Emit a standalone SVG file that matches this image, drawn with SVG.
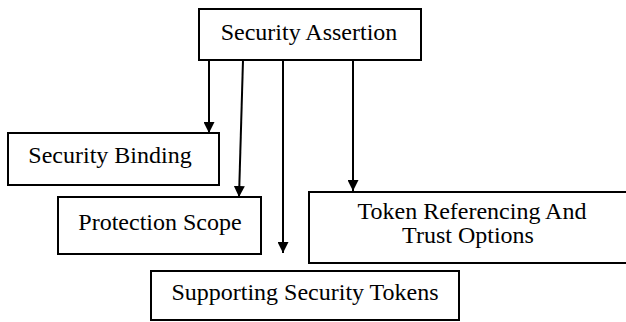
<svg xmlns="http://www.w3.org/2000/svg" width="626" height="322" viewBox="0 0 626 322">
  <style>
    .box { fill: #ffffff; stroke: #000000; stroke-width: 2; }
    .lbl { font-family: "Liberation Serif", "Times New Roman", serif; font-size: 24px; fill: #000000; text-anchor: middle; }
    .wire { fill: none; stroke: #000000; stroke-width: 2; }
  </style>
  <defs>
    <marker id="arrow" viewBox="0 0 10 10" refX="10" refY="5" markerWidth="5.5" markerHeight="5.5" orient="auto" markerUnits="strokeWidth">
      <path d="M0,0 L10,5 L0,10 z" fill="#000000"/>
    </marker>
  </defs>

  <rect width="626" height="322" fill="#ffffff"/>

  <g id="security-assertion">
    <rect class="box" x="199" y="9" width="222" height="51"/>
    <text class="lbl" x="309" y="40">Security Assertion</text>
  </g>

  <g id="security-binding">
    <rect class="box" x="8" y="133" width="211" height="52"/>
    <text class="lbl" x="110" y="163">Security Binding</text>
  </g>

  <g id="protection-scope">
    <rect class="box" x="58" y="197" width="203" height="57"/>
    <text class="lbl" x="160" y="230">Protection Scope</text>
  </g>

  <g id="token-referencing">
    <rect class="box" x="309" y="192" width="318" height="71"/>
    <text class="lbl" x="472" y="219">Token Referencing And</text>
    <text class="lbl" x="468" y="243">Trust Options</text>
  </g>

  <g id="supporting-tokens">
    <rect class="box" x="151" y="271" width="308" height="49"/>
    <text class="lbl" x="305" y="300">Supporting Security Tokens</text>
  </g>

  <g id="connectors">
    <line class="wire" x1="209" y1="60" x2="209" y2="133" marker-end="url(#arrow)"/>
    <line class="wire" x1="243" y1="60" x2="239" y2="197" marker-end="url(#arrow)"/>
    <line class="wire" x1="283" y1="60" x2="283" y2="253" marker-end="url(#arrow)"/>
    <line class="wire" x1="353" y1="60" x2="353" y2="191" marker-end="url(#arrow)"/>
  </g>
</svg>
